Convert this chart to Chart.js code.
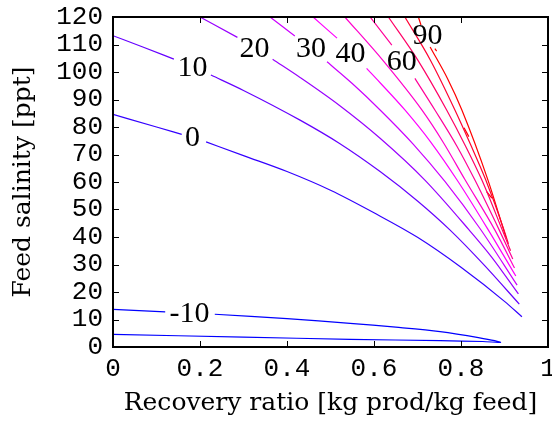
<!DOCTYPE html>
<html lang="en">
<head>
<meta charset="UTF-8">
<title>Feed salinity vs recovery ratio</title>
<script src="https://cdn.jsdelivr.net/npm/chart.js"></script>
<style>
  body { margin: 0; background: #fff; }
  #wrap { width: 552px; height: 423px; }
</style>
</head>
<body>
<div id="wrap"><canvas id="contourChart" width="552" height="423"></canvas></div>
<script>
// contour lines: recovery ratio (x) and feed salinity in ppt (y), null = gap for a label
const levels = [-10, 0, 10, 20, 30, 40, 50, 60, 70, 80, 90];

const rrM10 = [0, 0.12, 0.17, 0.234, 0.4, 0.545, 0.65, 0.752, 0.84, 0.891, 0.85, 0.752, 0.545, 0.3, 0];
const fsM10 = [13.7, 12.8, null, 11.9, 10.3, 8.6, 7.2, 5.6, 3.4, 1.7, 2.0, 2.3, 2.8, 3.6, 4.6];

const rr0 = [0, 0.1, 0.158, 0.19, 0.214, 0.3, 0.4, 0.5, 0.6, 0.7, 0.8, 0.9, 0.94];
const fs0 = [84.6, 80.0, 77.3, null, 74.6, 69.6, 63.8, 57.0, 48.8, 39.9, 29.0, 16.6, 11.0];

const rr10 = [0, 0.07, 0.14, 0.18, 0.225, 0.3, 0.43, 0.52, 0.614, 0.7, 0.775, 0.855, 0.934];
const fs10 = [113.2, 109.0, 104.7, null, 98.9, 93.3, 82.5, 74.1, 63.8, 53.1, 42.5, 29.5, 15.6];

const rr20 = [0.2, 0.286, 0.33, 0.367, 0.43, 0.52, 0.614, 0.717, 0.819, 0.87, 0.932];
const fs20 = [120, 112.6, null, 104.6, 98.0, 87.9, 75.9, 60.7, 42.5, 32.8, 19.3];

const rr30 = [0.361, 0.418, 0.455, 0.492, 0.55, 0.614, 0.69, 0.763, 0.844, 0.929];
const fs30 = [120, 113.1, null, 103.7, 95.8, 86.2, 73.8, 60.2, 43.0, 22.5];

const rr40 = [0.460, 0.515, 0.55, 0.583, 0.614, 0.671, 0.73, 0.794, 0.863, 0.926];
const fs40 = [120, 112.3, null, 101.3, 96.1, 86.2, 74.6, 60.0, 42.5, 25.8];

const rr50 = [0.533, 0.62, 0.710, 0.76, 0.809, 0.878, 0.923];
const fs50 = [120, 104.3, 86.2, 74.2, 60.9, 42.5, 28.7];

const rr60 = [0.591, 0.641, 0.665, 0.694, 0.740, 0.79, 0.832, 0.888, 0.919];
const fs60 = [120, 109.8, null, 97.7, 86.2, 73.2, 60.7, 42.5, 32.0];

const rr70 = [0.633, 0.7, 0.767, 0.81, 0.848, 0.895, 0.914];
const fs70 = [120, 104.5, 86.2, 73.2, 60.7, 42.5, 35.0];

const rr80 = [0.671, 0.73, 0.786, 0.822, 0.857, 0.899, 0.909];
const fs80 = [120, 104.2, 86.2, 73.6, 60.7, 42.5, 37.5];

const rr90 = [0.702, 0.708, 0.716, 0.729, 0.77, 0.802, 0.862, 0.903];
const fs90 = [120, 117.1, null, 109.1, 97.3, 86.2, 60.7, 40.0];

// broken bits of the 90 line
const rr90b = [0.740, 0.744, 0.75, 0.807, 0.818, 0.83, 0.859, 0.871];
const fs90b = [108.5, 107.6, null, 79.7, 76.5, null, 56.5, 54.1];

// inline contour labels
const labelText = ['-10', '0', '10', '20', '30', '40', '60', '90'];
const labelRatio = [0.176, 0.183, 0.183, 0.325, 0.455, 0.546, 0.664, 0.723];
const labelFeed = [12.1, 76, 101.3, 108.4, 108.3, 106.5, 103.5, 113.2];

const xTicks = [0, 0.2, 0.4, 0.6, 0.8, 1];

const lineColors = ['#0000ff', '#3300ff', '#6600ff', '#9900ff', '#cc00ff', '#ff00ff',
                    '#ff00cc', '#ff0099', '#ff0066', '#ff0033', '#ff0000'];

const series = [
  [rrM10, fsM10], [rr0, fs0], [rr10, fs10], [rr20, fs20], [rr30, fs30], [rr40, fs40],
  [rr50, fs50], [rr60, fs60], [rr70, fs70], [rr80, fs80], [rr90, fs90]
];

function zip(xs, ys) {
  return xs.map((v, i) => ({ x: v, y: ys[i] }));
}

const datasets = series.map((s, i) => ({
  label: String(levels[i]),
  data: zip(s[0], s[1]),
  borderColor: lineColors[i],
  borderWidth: 1.2,
  showLine: true,
  pointRadius: 0,
  // the -10 line folds back on itself, so it can't use monotone
  cubicInterpolationMode: i === 0 ? 'default' : 'monotone',
  tension: 0.3,
  spanGaps: false
}));
datasets.push({
  label: '90b',
  data: zip(rr90b, fs90b),
  borderColor: lineColors[10],
  borderWidth: 1.2,
  showLine: true,
  pointRadius: 0,
  tension: 0,
  spanGaps: false
});

// axis box with inward ticks on all four sides
const frame = {
  id: 'frame',
  afterDraw(chart) {
    const { ctx, chartArea: a, scales: { x, y } } = chart;
    ctx.save();
    ctx.strokeStyle = '#000';
    ctx.lineWidth = 1;
    ctx.beginPath();
    x.ticks.forEach(t => {
      const px = Math.round(x.getPixelForValue(t.value)) + 0.5;
      ctx.moveTo(px, a.bottom); ctx.lineTo(px, a.bottom - 6);
      ctx.moveTo(px, a.top); ctx.lineTo(px, a.top + 6);
    });
    y.ticks.forEach(t => {
      const py = Math.round(y.getPixelForValue(t.value)) + 0.5;
      ctx.moveTo(a.left, py); ctx.lineTo(a.left + 6, py);
      ctx.moveTo(a.right, py); ctx.lineTo(a.right - 6, py);
    });
    ctx.stroke();
    ctx.lineWidth = 2;
    ctx.strokeRect(a.left, a.top, a.right - a.left, a.bottom - a.top);
    ctx.restore();
  }
};

const contourLabels = {
  id: 'contourLabels',
  afterDatasetsDraw(chart) {
    const { ctx, scales: { x, y } } = chart;
    ctx.save();
    ctx.fillStyle = '#000';
    ctx.font = '30px "Liberation Serif", serif';
    ctx.textAlign = 'center';
    ctx.textBaseline = 'middle';
    labelText.forEach((t, i) => {
      ctx.fillText(t, x.getPixelForValue(labelRatio[i]), y.getPixelForValue(labelFeed[i]));
    });
    ctx.restore();
  }
};

// keep the plot box fixed: no extra room for overhanging tick labels
function noOverhang(scale) {
  scale.paddingLeft = 0;
  scale.paddingRight = 0;
  scale.paddingTop = 0;
  scale.paddingBottom = 0;
}

new Chart(document.getElementById('contourChart'), {
  type: 'scatter',
  data: { datasets },
  options: {
    responsive: false,
    animation: false,
    layout: { padding: { top: 17, right: 4, left: 0, bottom: 0 } },
    plugins: { legend: { display: false }, tooltip: { enabled: false } },
    scales: {
      x: {
        type: 'linear',
        min: 0, max: 1,
        afterFit(scale) { scale.height = 76; noOverhang(scale); },
        afterBuildTicks(scale) { scale.ticks = xTicks.map(v => ({ value: v })); },
        grid: { display: false, drawTicks: false },
        border: { display: false },
        ticks: {
          autoSkip: false, maxRotation: 0, padding: 7, color: '#000',
          font: { family: '"Liberation Mono", monospace', size: 26 },
          callback: v => (v === 0 || v === 1) ? String(v) : v.toFixed(1)
        },
        title: {
          display: true,
          text: 'Recovery ratio [kg prod/kg feed]',
          color: '#000',
          font: { family: '"DejaVu Serif", serif', size: 25 },
          padding: { top: 0, bottom: 5 }
        }
      },
      y: {
        type: 'linear',
        min: 0, max: 120,
        afterFit(scale) { scale.width = 113; noOverhang(scale); },
        grid: { display: false, drawTicks: false },
        border: { display: false },
        ticks: {
          stepSize: 10, autoSkip: false, padding: 10, color: '#000',
          font: { family: '"Liberation Mono", monospace', size: 26 }
        },
        title: {
          display: true,
          text: 'Feed salinity [ppt]',
          color: '#000',
          font: { family: '"DejaVu Serif", serif', size: 25 },
          padding: { top: 8, bottom: 0 }
        }
      }
    }
  },
  plugins: [frame, contourLabels]
});
</script>
</body>
</html>
